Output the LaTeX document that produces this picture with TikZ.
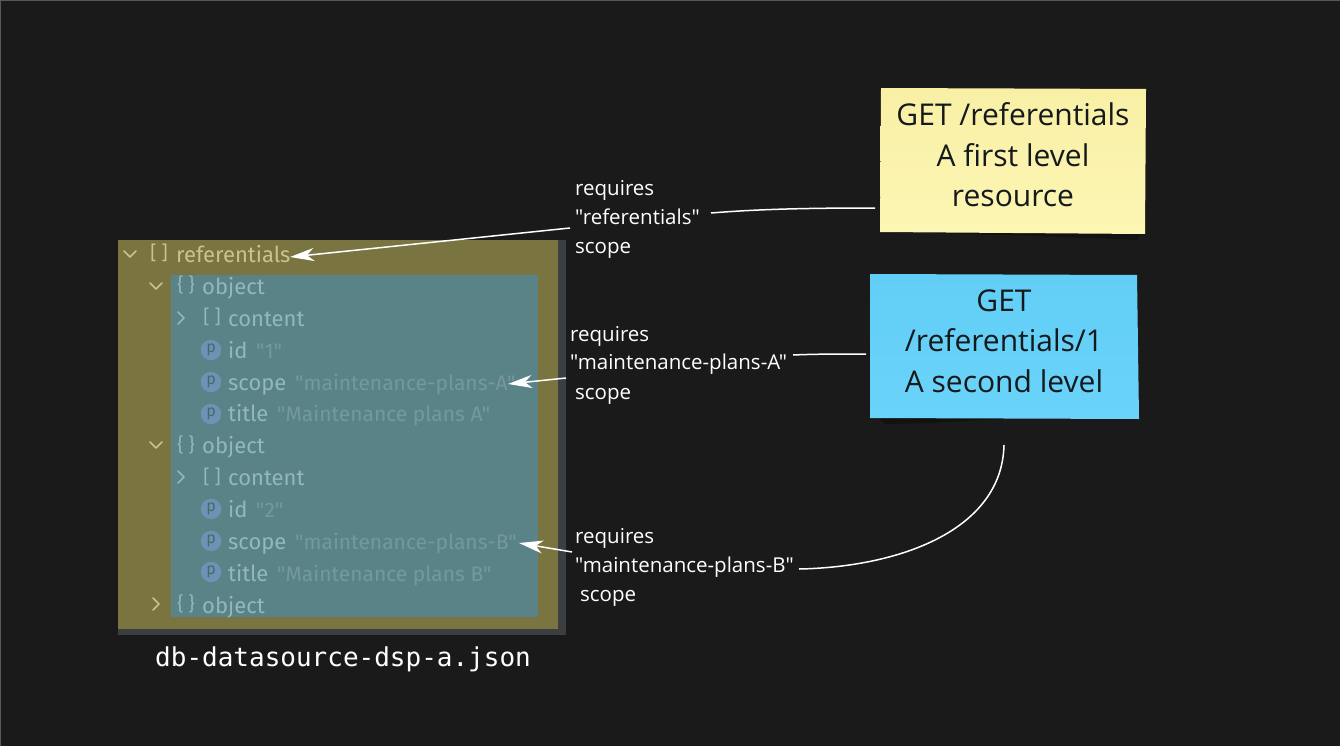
\documentclass[tikz,border=0pt]{standalone}
\usepackage{fontspec}
\setmainfont[Ligatures=TeXOff]{Open Sans}
\newfontfamily\treefont[Ligatures=TeXOff]{Fira Sans}
\newfontfamily\filefont{DejaVu Sans Mono}
\usetikzlibrary{arrows.meta,calc}
\definecolor{bgc}{HTML}{1A1A1A}
\definecolor{olivec}{HTML}{7A7440}
\definecolor{tealc}{HTML}{5A8388}
\definecolor{stripc}{HTML}{3C3F41}
\definecolor{yellowtop}{HTML}{F9F0A6}
\definecolor{yellowbot}{HTML}{FCF6B4}
\definecolor{bluetop}{HTML}{62CEF6}
\definecolor{bluebot}{HTML}{6AD3F9}
\definecolor{inkc}{HTML}{15191C}
\definecolor{olivetxt}{HTML}{C9C38C}
\definecolor{chevc}{HTML}{C9C38C}
\definecolor{keyc}{HTML}{93B8BB}
\definecolor{valc}{HTML}{73999E}
\definecolor{pillc}{HTML}{6C92B4}
\tikzset{
  x=1pt,y=-1pt,
  notetxt/.style={font=\fontsize{30}{30}\selectfont,text=inkc,inner sep=0pt,anchor=base},
  lab/.style={font=\fontsize{20.5}{20.5}\selectfont,text=white,inner sep=0pt,anchor=base west},
  key/.style={font=\treefont\fontsize{22}{22}\selectfont,text=keyc,inner sep=0pt,anchor=base west},
  val/.style={font=\treefont\fontsize{21}{21}\selectfont,text=valc,inner sep=0pt,anchor=base west},
  ico/.style={font=\treefont\fontsize{19}{19}\selectfont,text=keyc,inner sep=0pt,anchor=center},
  pill/.style={circle,fill=pillc,minimum size=20.5pt,inner sep=0pt,font=\treefont\fontsize{16}{16}\selectfont,text=tealc!80!black},
  chev/.style={draw=chevc,line width=1.7pt,line cap=round,line join=round},
  chevin/.style={draw=keyc,line width=1.7pt,line cap=round,line join=round},
  conn/.style={draw=white,line width=1.5pt},
  arr/.style={conn,-{Stealth[length=24pt,width=13pt,inset=7pt]}},
}
\begin{document}
\begin{tikzpicture}
\useasboundingbox (0,0) rectangle (1340,746);
\fill[bgc] (0,0) rectangle (1340,746);
\draw[gray!70!black,line width=1pt] (0.5,0.5) -- (1339.5,0.5);
\draw[gray!70!black,line width=1pt] (0.5,0.5) -- (0.5,746);
% tree panel
\fill[stripc] (118,240) rectangle (566,635);
\fill[olivec] (118,240) rectangle (558,629);
\fill[tealc] (171,275) rectangle (538,617);
% notes: shadows
\fill[black,opacity=.3] (895,232) -- (1140,234) -- (1138,240) -- (1040,236) -- cycle;
\fill[black,opacity=.3] (878,418) -- (1000,419) -- (930,423) -- (885,424) -- cycle;
\shade[top color=yellowtop,bottom color=yellowbot] (881,88) -- (1146,89) -- (1145,234) -- (880,232) -- cycle;
\shade[top color=bluetop,bottom color=bluebot] (870,274) -- (1137,275) -- (1139,419) -- (870,418) -- cycle;
\node[notetxt] (y1) at (1013,126) {GET /referentials};
\node[notetxt] (y2) at (1013,167) {A first level};
\node[notetxt] (y3) at (1013,207) {resource};
\node[notetxt] (b1) at (1004,311) {GET};
\node[notetxt] (b2) at (1004,351) {/referentials/1};
\node[notetxt] (b3) at (1004,392) {A second level};
% tree rows
\draw[chev] (124,251) -- (130,257) -- (136,251);
\node[ico,text=olivetxt] (i0) at (159,253) {[ ]};
\node[key,text=olivetxt] (referentials) at (176,262) {referentials};
\draw[chev] (150,283) -- (156,289) -- (162,283);
\node[ico] (i1) at (186,285) {\{ \}};
\node[key] (o1) at (202,294) {object};
\draw[chevin] (178,312) -- (184,318) -- (178,324);
\node[ico] (i2) at (212,317) {[ ]};
\node[key] (c1) at (228,326) {content};
\node[pill] (p1) at (211,350) {p};
\node[key] (id1) at (228,358) {id};
\node[val] (idv1) at (256,358) {"1"};
\node[pill] (p2) at (211,382) {p};
\node[key] (sc1) at (228,390) {scope};
\node[val] (scv1) at (295,390) {"maintenance-plans-A"};
\node[pill] (p3) at (211,414) {p};
\node[key] (ti1) at (228,421.5) {title};
\node[val] (tiv1) at (277,421.5) {"Maintenance plans A"};
\draw[chev] (150,442) -- (156,448) -- (162,442);
\node[ico] (i3) at (186,445) {\{ \}};
\node[key] (o2) at (202,453.5) {object};
\draw[chevin] (178,471) -- (184,477) -- (178,483);
\node[ico] (i4) at (212,477) {[ ]};
\node[key] (c2) at (228,485.5) {content};
\node[pill] (p4) at (211,509) {p};
\node[key] (id2) at (228,517.5) {id};
\node[val] (idv2) at (256,517.5) {"2"};
\node[pill] (p5) at (211,541) {p};
\node[key] (sc2) at (228,549.5) {scope};
\node[val] (scv2) at (295,549.5) {"maintenance-plans-B"};
\node[pill] (p6) at (211,572) {p};
\node[key] (ti2) at (228,581.5) {title};
\node[val] (tiv2) at (277,581.5) {"Maintenance plans B"};
\draw[chev] (153,598) -- (159,604) -- (153,610);
\node[ico] (i5) at (186,604) {\{ \}};
\node[key] (o3) at (202,613) {object};
\node[font=\filefont\fontsize{26}{26}\selectfont,text=white,inner sep=0pt,anchor=base west] (file) at (155,666) {db-datasource-dsp-a.json};
% labels
\node[lab] (l1a) at (575,195) {requires};
\node[lab] (l1b) at (575,224) {"referentials"};
\node[lab] (l1c) at (575,253) {scope};
\node[lab] (l2a) at (570,341) {requires};
\node[lab] (l2b) at (570,369) {"maintenance-plans-A"};
\node[lab] (l2c) at (575,399) {scope};
\node[lab] (l3a) at (575,543) {requires};
\node[lab] (l3b) at (575,572) {"maintenance-plans-B"};
\node[lab] (l3c) at (580,601) {scope};
% connector ends
\coordinate (n1) at (875,208);
\coordinate (m1) at (711,213);
\coordinate (s1) at (570,228);
\coordinate (t1) at (290,257);
\coordinate (n2) at (866,354);
\coordinate (m2) at (793,355);
\coordinate (s2) at (566,378);
\coordinate (t2) at (508,384);
\coordinate (n3) at (1004,445);
\coordinate (m3) at (799,569);
\coordinate (s3) at (572,552);
\coordinate (t3) at (519,543);
\draw[conn] (n1) .. controls (810,208) and (760,209) .. (m1);
\draw[arr] (s1) -- (t1);
\draw[conn] (n2) .. controls (840,354) and (815,354) .. (m2);
\draw[arr] (s2) -- (t2);
\draw[conn] (n3) .. controls (1002,530) and (900,567) .. (m3);
\draw[arr] (s3) -- (t3);
\end{tikzpicture}
\end{document}
